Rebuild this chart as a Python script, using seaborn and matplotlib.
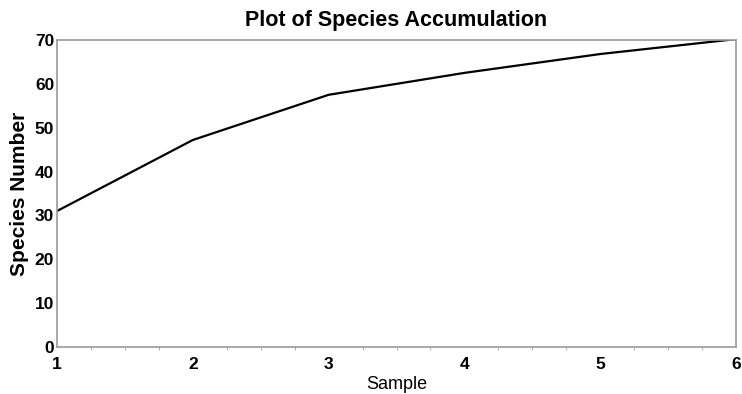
import matplotlib
matplotlib.use("Agg")
import matplotlib.pyplot as plt
import seaborn as sns
import pandas as pd
from matplotlib.ticker import MultipleLocator

samples = [1, 2, 3, 4, 5, 6]
species = [31, 47.2, 57.5, 62.5, 66.8, 70.2]
yticks = [0, 10, 20, 30, 40, 50, 60, 70]

sns.set_style("white")
plt.rcParams['font.family'] = ['Liberation Sans', 'DejaVu Sans']
plt.rcParams['text.color'] = 'black'
plt.rcParams['axes.labelcolor'] = 'black'
plt.rcParams['xtick.labelcolor'] = 'black'
plt.rcParams['ytick.labelcolor'] = 'black'

df = pd.DataFrame({"Sample": samples, "Species Number": species})

fig = plt.figure(figsize=(7.42, 3.94), dpi=100)
ax = fig.add_axes([0.0768, 0.1193, 0.9152, 0.7792])
sns.lineplot(data=df, x="Sample", y="Species Number", ax=ax, color="black", linewidth=1.6)

ax.set_xlim(1, 6)
ax.set_ylim(0, 70)
ax.set_yticks(yticks)
ax.set_xticks(samples)
ax.xaxis.set_minor_locator(MultipleLocator(0.25))
for s in ax.spines.values():
    s.set_color("#9a9a9a")
    s.set_linewidth(1.2)
ax.tick_params(axis="x", which="major", direction="out", length=4, color="#9a9a9a", pad=3, labelsize=12.5, labelcolor="black")
ax.tick_params(axis="x", which="minor", direction="out", length=2.5, color="#9a9a9a", bottom=True)
ax.tick_params(axis="y", which="major", direction="out", length=0, pad=2, labelsize=12.5, labelcolor="black")
for lab in ax.get_xticklabels() + ax.get_yticklabels():
    lab.set_fontweight("bold")
ax.set_xlabel("Sample", fontsize=13, labelpad=3, color="black")
ax.set_ylabel("Species Number", fontsize=15, fontweight="bold", labelpad=4, color="black")
ax.set_title("Plot of Species Accumulation", fontsize=15.5, fontweight="bold", pad=10, color="black")

fig.savefig("out.png", dpi=100)
